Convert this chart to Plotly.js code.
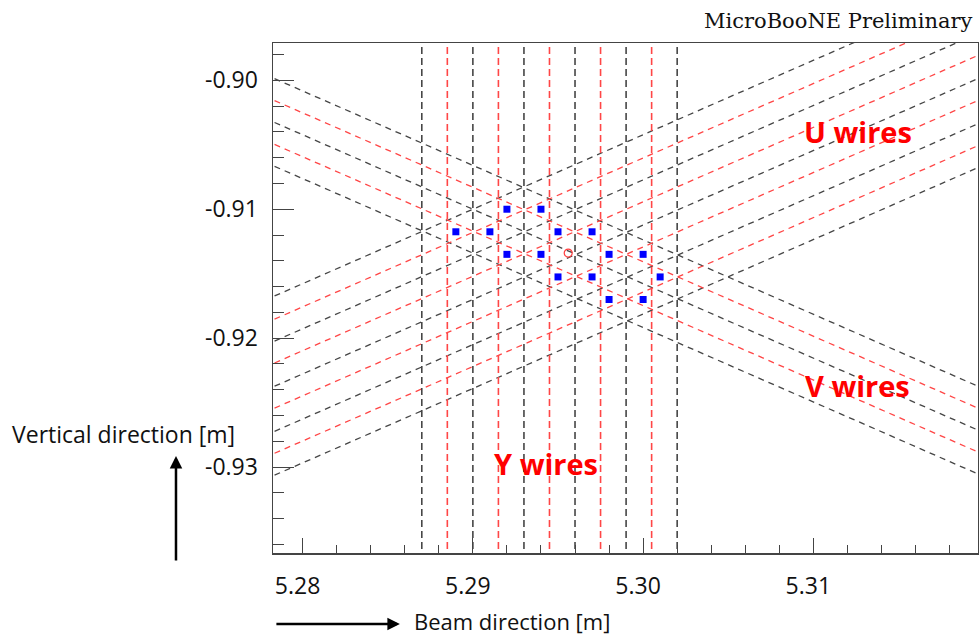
<!DOCTYPE html>
<html>
<head>
<meta charset="utf-8">
<script src="https://cdn.plot.ly/plotly-3.0.1.min.js"></script>
<style>
  html, body { margin: 0; padding: 0; background: #ffffff; }
  #chart { width: 979px; height: 636px; }
</style>
</head>
<body>
<div id="chart"></div>
<script>
// ---- data ----
// Y (collection) wires: vertical, x positions [m]
const yWiresBlackX = [5.2870, 5.2900, 5.2930, 5.2960, 5.2990, 5.3020];
const yWiresRedX   = [5.2885, 5.2915, 5.2945, 5.2975, 5.3005];
// U wires: rise to the right; value = vertical position [m] at x = 5.29
const uWiresBlackY = [-0.9100, -0.9135, -0.9170, -0.9205, -0.9239];
const uWiresRedY   = [-0.9118, -0.9152, -0.9187, -0.9222];
// V wires: fall to the right; value = vertical position [m] at x = 5.29
const vWiresBlackY = [-0.9066, -0.9100, -0.9134];
const vWiresRedY   = [-0.9083, -0.9117];
const wireRefX = 5.29;
const wireAngleDeg = 30;   // angle of U/V wires to the beam axis

// reconstructed space points
const pointsX = [5.2920, 5.2940, 5.2890, 5.2910, 5.2950, 5.2970, 5.2920, 5.2940,
                 5.2980, 5.3000, 5.2950, 5.2970, 5.3010, 5.2980, 5.3000];
const pointsY = [-0.9100, -0.9100, -0.91175, -0.91175, -0.91175, -0.91175, -0.9135, -0.9135,
                 -0.9135, -0.9135, -0.91525, -0.91525, -0.91525, -0.9170, -0.9170];
// true point (open circle)
const trueX = [5.2956];
const trueY = [-0.9134];

// tick labels
const xTickVals = [5.28, 5.29, 5.30, 5.31];
const xTickText = ['5.28', '5.29', '5.30', '5.31'];
const yTickVals = [-0.90, -0.91, -0.92, -0.93];
const yTickText = ['-0.90', '-0.91', '-0.92', '-0.93'];

const xRange = [5.27826, 5.31967];
const yRange = [-0.93666, -0.89711];

// ---- build traces ----
const slope = Math.tan(wireAngleDeg * Math.PI / 180);
const xExt = [5.26, 5.34];
const yExt = [-0.95, -0.88];

function verticalLines(xs) {
  const x = [], y = [];
  xs.forEach(v => { x.push(v, v, null); y.push(yExt[0], yExt[1], null); });
  return {x, y};
}
function slantedLines(cs, sign) {
  const x = [], y = [];
  cs.forEach(c => {
    xExt.forEach(xx => { x.push(xx); y.push(c + sign * slope * (xx - wireRefX)); });
    x.push(null); y.push(null);
  });
  return {x, y};
}

const BLACK = '#464646';
const RED = 'rgb(255,70,70)';

function lineTrace(d, color, width, dash) {
  return {
    type: 'scatter', mode: 'lines', x: d.x, y: d.y,
    line: {color: color, width: width, dash: dash},
    hoverinfo: 'skip', showlegend: false, connectgaps: false
  };
}

const traces = [
  lineTrace(slantedLines(uWiresBlackY, +1), BLACK, 1.3, '6px,5px'),
  lineTrace(slantedLines(vWiresBlackY, -1), BLACK, 1.3, '6px,5px'),
  lineTrace(slantedLines(uWiresRedY, +1), RED, 1.3, '6px,5px'),
  lineTrace(slantedLines(vWiresRedY, -1), RED, 1.3, '6px,5px'),
  lineTrace(verticalLines(yWiresBlackX), BLACK, 1.6, '7px,4px'),
  lineTrace(verticalLines(yWiresRedX), RED, 1.6, '7px,4px'),
  {
    type: 'scatter', mode: 'markers', x: pointsX, y: pointsY,
    marker: {symbol: 'square', size: 7, color: '#0000ff', line: {width: 0}},
    hoverinfo: 'skip', showlegend: false
  },
  {
    type: 'scatter', mode: 'markers', x: trueX, y: trueY,
    marker: {symbol: 'circle-open', size: 8, color: 'rgb(255,60,60)', line: {width: 1.2, color: 'rgb(255,60,60)'}},
    hoverinfo: 'skip', showlegend: false
  }
];

const tickFont = {family: 'Open Sans, sans-serif', size: 23, color: '#111'};
const labelFont = {family: 'Open Sans, sans-serif', size: 22, color: '#111'};
const wireFont = {family: 'Open Sans, sans-serif', size: 29, color: '#ff0000', weight: 'bold'};

const layout = {
  width: 979, height: 636,
  margin: {l: 273, r: 1, t: 43, b: 83, pad: 0},
  paper_bgcolor: '#ffffff', plot_bgcolor: '#ffffff',
  showlegend: false,
  xaxis: {
    range: xRange, autorange: false,
    showgrid: false, zeroline: false,
    showline: true, mirror: true, linecolor: '#444', linewidth: 1.5,
    ticks: 'inside', ticklen: 15, tickwidth: 1.2, tickcolor: '#444',
    tickmode: 'array', tickvals: xTickVals, ticktext: xTickText,
    minor: {ticks: 'inside', ticklen: 8, tickwidth: 1, tickcolor: '#444', tickmode: 'linear', dtick: 0.002, tick0: 5.28},
    tickfont: tickFont, ticklabelstandoff: 12, ticklabelshift: -5,
    fixedrange: true
  },
  yaxis: {
    range: yRange, autorange: false,
    showgrid: false, zeroline: false,
    showline: true, mirror: true, linecolor: '#444', linewidth: 1.5,
    ticks: 'inside', ticklen: 21, tickwidth: 1.2, tickcolor: '#444',
    tickmode: 'array', tickvals: yTickVals, ticktext: yTickText,
    minor: {ticks: 'inside', ticklen: 11, tickwidth: 1, tickcolor: '#444', tickmode: 'linear', dtick: 0.002, tick0: -0.90},
    tickfont: tickFont, ticklabelstandoff: 9,
    fixedrange: true
  },
  annotations: [
    {text: 'U wires', xref: 'x', yref: 'y', x: 5.31263, y: -0.90395, showarrow: false,
     font: wireFont, xanchor: 'center', yanchor: 'middle'},
    {text: 'V wires', xref: 'x', yref: 'y', x: 5.31257, y: -0.9237, showarrow: false,
     font: wireFont, xanchor: 'center', yanchor: 'middle'},
    {text: 'Y wires', xref: 'x', yref: 'y', x: 5.29431, y: -0.92974, showarrow: false,
     font: wireFont, xanchor: 'center', yanchor: 'middle'},
    {text: 'MicroBooNE Preliminary', xref: 'paper', yref: 'paper', x: 0.9957, y: 1.043,
     xanchor: 'right', yanchor: 'middle', showarrow: false,
     font: {family: 'DejaVu Serif, serif', size: 21, color: '#111'}},
    {text: 'Vertical direction [m]', xref: 'paper', yref: 'paper', x: -0.373, y: 0.2333,
     xanchor: 'left', yanchor: 'middle', showarrow: false,
     font: {family: 'Open Sans, sans-serif', size: 23, color: '#111'}},
    {text: 'Beam direction [m]', xref: 'paper', yref: 'paper', x: 0.197, y: -0.134,
     xanchor: 'left', yanchor: 'middle', showarrow: false, font: labelFont},
    // vertical arrow
    {text: '', xref: 'paper', yref: 'paper', x: -0.1376, y: 0.190, ax: 0, ay: 106,
     showarrow: true, arrowhead: 2, arrowsize: 1, arrowwidth: 2.5, arrowcolor: '#000'},
    // horizontal arrow
    {text: '', xref: 'paper', yref: 'paper', x: 0.180, y: -0.139, ax: -125, ay: 0,
     showarrow: true, arrowhead: 2, arrowsize: 1, arrowwidth: 2.5, arrowcolor: '#000'}
  ]
};

Plotly.newPlot('chart', traces, layout, {staticPlot: true, displayModeBar: false});
</script>
</body>
</html>
